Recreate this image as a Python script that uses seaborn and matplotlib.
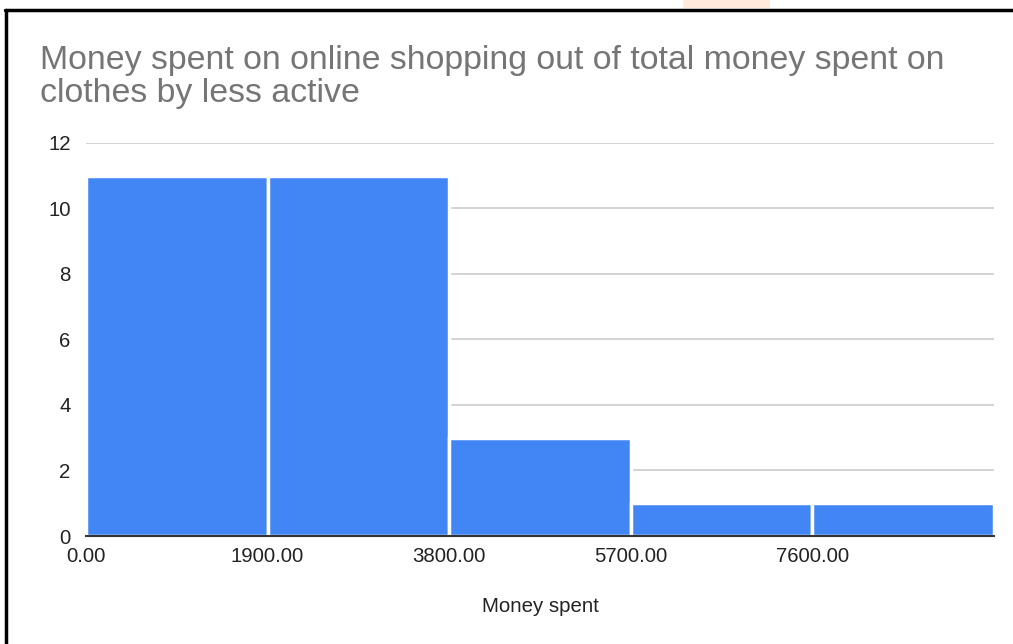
import matplotlib
matplotlib.use("Agg")
import matplotlib.pyplot as plt
import matplotlib.patches as mpatches
import matplotlib.lines as mlines
import numpy as np
import pandas as pd
import seaborn as sns

# Histogram bins (money spent) and the number of respondents in each bin
bin_edges = [0, 1900, 3800, 5700, 7600, 9500]
bin_counts = [11, 11, 3, 1, 1]
x_tick_values = [0, 1900, 3800, 5700, 7600]
x_tick_labels = ["0.00", "1900.00", "3800.00", "5700.00", "7600.00"]
y_tick_values = [0, 2, 4, 6, 8, 10, 12]

title_text = "Money spent on online shopping out of total money spent on\nclothes by less active"
x_label = "Money spent"

bar_color = "#4285F4"
title_color = "#757575"
text_color = "#222222"
grid_color = "#cccccc"

sns.set_theme(style="white")
plt.rcParams["font.family"] = ["Liberation Sans", "DejaVu Sans"]

centers = [(a + b) / 2 for a, b in zip(bin_edges[:-1], bin_edges[1:])]
df = pd.DataFrame({"money": centers, "count": bin_counts})

fig = plt.figure(figsize=(10.13, 6.44), dpi=100)
ax = fig.add_axes([0.0849, 0.1677, 0.8964, 0.6103])

sns.histplot(data=df, x="money", weights="count", bins=bin_edges, ax=ax,
             color=bar_color, alpha=1.0, edgecolor="white", linewidth=2.5,
             zorder=3)

ax.set_xlim(0, 9500)
ax.set_ylim(0, 12)
ax.set_yticks(y_tick_values)
ax.set_yticklabels([str(v) for v in y_tick_values], fontsize=14.7, color=text_color)
ax.set_xticks(x_tick_values)
ax.set_xticklabels(x_tick_labels, fontsize=14.7, color=text_color)
ax.tick_params(axis="both", length=0)
ax.tick_params(axis="y", pad=11)
ax.tick_params(axis="x", pad=8)

ax.yaxis.grid(True, color=grid_color, linewidth=1.2, zorder=0)
ax.xaxis.grid(False)
for side in ["left", "right", "top"]:
    ax.spines[side].set_visible(False)
ax.spines["bottom"].set_color("#333333")
ax.spines["bottom"].set_linewidth(1.5)
ax.spines["bottom"].set_zorder(4)

ax.set_ylabel("")
ax.set_xlabel(x_label, fontsize=14.7, color=text_color, labelpad=22)

fig.text(0.0395, 0.93, title_text, fontsize=24.4, color=title_color,
         ha="left", va="top", linespacing=1.08)

# Frame lines around the chart area
fig.add_artist(mlines.Line2D([5 / 1013, 1.0], [1 - 10 / 644, 1 - 10 / 644],
                             color="black", linewidth=2.5, transform=fig.transFigure))
fig.add_artist(mlines.Line2D([6 / 1013, 6 / 1013], [0, 1 - 10 / 644],
                             color="black", linewidth=2.5, transform=fig.transFigure))
fig.add_artist(mpatches.Rectangle((683 / 1013, 1 - 8 / 644), 87 / 1013, 8 / 644,
                                  facecolor="#ffeadb", edgecolor="none",
                                  transform=fig.transFigure))

fig.savefig("out.png", dpi=100, facecolor="white")
